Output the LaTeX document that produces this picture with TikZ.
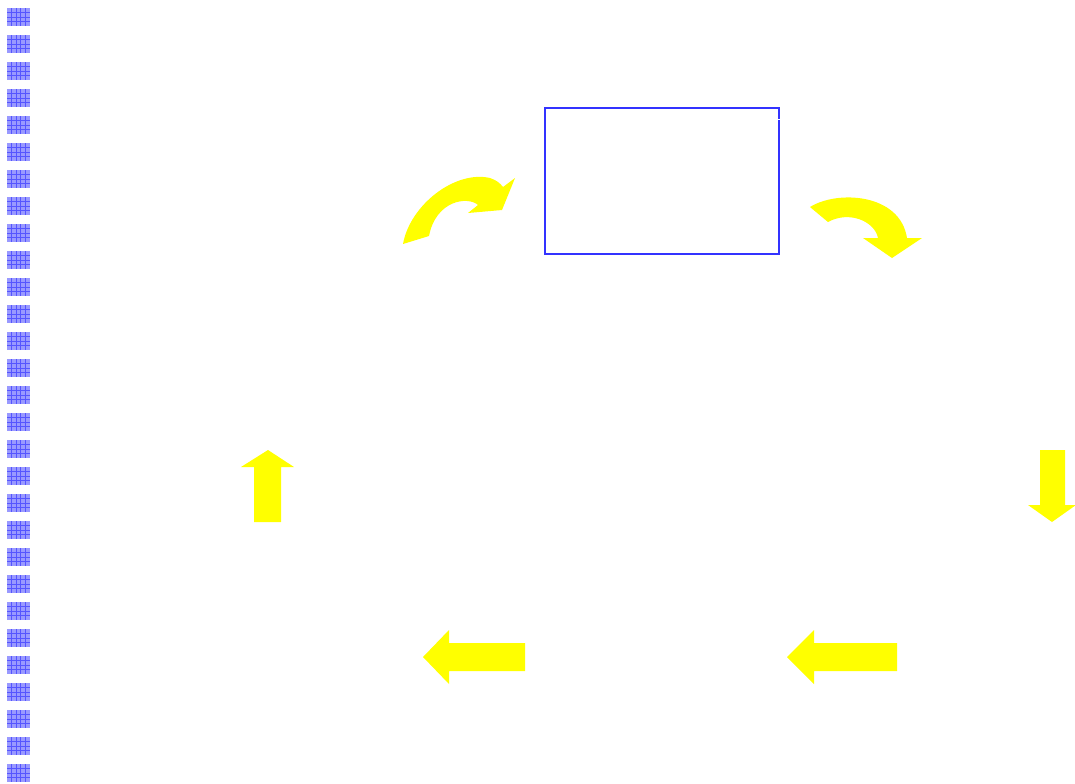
\documentclass[tikz,border=0pt]{standalone}
\usetikzlibrary{positioning}
\definecolor{gridfill}{HTML}{9999FF}
\definecolor{gridline}{HTML}{5555FF}
\definecolor{boxblue}{HTML}{3333FF}
\definecolor{arrowyellow}{HTML}{FFFF00}
\tikzset{
  bindersq/.style={fill=gridfill, draw=none},
  binderline/.style={draw=gridline, line width=0.75pt},
  bluebox/.style={draw=boxblue, line width=1.5pt, fill=white, minimum width=234*0.75pt, minimum height=146*0.75pt, inner sep=0pt, anchor=north west},
  yarrow/.style={fill=arrowyellow, draw=none}
}
\begin{document}
\begin{tikzpicture}[x=0.75pt, y=-0.75pt]
\useasboundingbox (0,0) rectangle (1075,783);
% binder column of grid squares
\foreach \k in {0,...,28}{
  \pgfmathsetmacro{\ty}{8+27*\k}
  \fill[bindersq] (7,\ty) rectangle (30,\ty+18);
  \foreach \i in {1,...,4}{
    \draw[binderline] (7+4.6*\i,\ty) -- (7+4.6*\i,\ty+18);
  }
  \foreach \j in {1,...,3}{
    \draw[binderline] (7,\ty+4.5*\j) -- (30,\ty+4.5*\j);
  }
}
% blue box
\node[bluebox] (box) at (544,107) {};
\draw[white, line width=1pt] (776,119.5) -- (780,119.5);
% curved arrow, upper left
\fill[yarrow] (403,244) .. controls (410,205) and (455,170) .. (490,178)
  .. controls (496,180) and (500,183) .. (503,187)
  -- (515,178) -- (502,210) -- (468,213) -- (478,205)
  .. controls (468,196) and (436,200) .. (429,236) -- cycle;
% curved arrow, upper right
\fill[yarrow] (810,207) .. controls (837,190) and (900,193) .. (907,238)
  -- (922,238) -- (892,258) -- (863,238) -- (878,238)
  .. controls (875,222) and (850,210) .. (828,222) -- cycle;
% up arrow
\fill[yarrow] (254,522) -- (254,467) -- (241,467) -- (268,450) -- (294,467)
  -- (281,467) -- (281,522) -- cycle;
% down arrow
\fill[yarrow] (1040,450) -- (1065,450) -- (1065,505) -- (1076,505)
  -- (1052,522) -- (1028,505) -- (1040,505) -- cycle;
% left arrows
\fill[yarrow] (525,643) -- (449,643) -- (449,630) -- (423,657) -- (449,684)
  -- (449,671) -- (525,671) -- cycle;
\fill[yarrow] (897,643) -- (814,643) -- (814,630) -- (787,657) -- (814,684)
  -- (814,671) -- (897,671) -- cycle;
\end{tikzpicture}
\end{document}
